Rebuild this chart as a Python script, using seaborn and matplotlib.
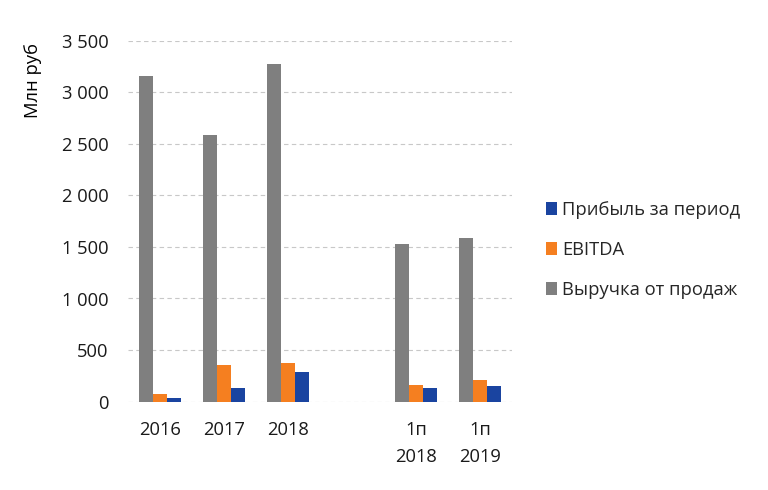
import matplotlib
matplotlib.use("Agg")
import matplotlib.pyplot as plt
import seaborn as sns
import pandas as pd
import numpy as np

categories = ["2016", "2017", "2018", "", "1п\n2018", "1п\n2019"]
revenue = [3160, 2590, 3280, np.nan, 1530, 1590]
ebitda = [75, 355, 375, np.nan, 160, 210]
profit = [35, 130, 290, np.nan, 130, 150]
series_names = ["Выручка от продаж", "EBITDA", "Прибыль за период"]
colors = ["#7F7F7F", "#F57F20", "#1A44A0"]
yticks = [0, 500, 1000, 1500, 2000, 2500, 3000, 3500]
ytick_labels = ["0", "500", "1 000", "1 500", "2 000", "2 500", "3 000", "3 500"]

rows = []
for name, vals in zip(series_names, [revenue, ebitda, profit]):
    for c, v in zip(categories, vals):
        rows.append({"cat": c, "series": name, "value": v})
df = pd.DataFrame(rows)

sns.set_theme(style="white")
plt.rcParams["font.family"] = ["Open Sans", "DejaVu Sans"]

fig = plt.figure(figsize=(7.68, 4.9), dpi=100)
ax = fig.add_axes([128/768, (490-401.5)/490, 384/768, 360.5/490])

sns.barplot(data=df, x="cat", y="value", hue="series", order=categories,
            hue_order=series_names, palette=colors, width=0.66,
            saturation=1, ax=ax, errorbar=None, legend=True, linewidth=0)

FS = 13.2
ax.set_xlim(-0.5, 5.5)
ax.set_ylim(0, 3500)
ax.set_yticks(yticks)
ax.set_yticklabels(ytick_labels, fontsize=FS, color="#1A1A1A")
ax.tick_params(axis="x", labelsize=FS, colors="#1A1A1A", length=0, pad=14)
for lab in ax.get_xticklabels():
    lab.set_linespacing(1.65)
ax.tick_params(axis="y", length=0, pad=14)
ax.set_xlabel("")
ax.set_ylabel("")
for s in ax.spines.values():
    s.set_visible(False)
ax.yaxis.grid(True, linestyle=(0, (4, 3)), color="#C8C8C8", linewidth=0.8)
ax.set_axisbelow(True)

fig.text(33/768, 1 - 80/490, "Млн руб", rotation=90, fontsize=FS,
         ha="center", va="center", color="#000000")

handles, labels = ax.get_legend_handles_labels()
ax.legend(handles[::-1], labels[::-1], loc="center left",
          bbox_to_anchor=(529/768, 1 - 250/490), bbox_transform=fig.transFigure,
          frameon=False, fontsize=FS, handlelength=0.65, handleheight=0.65,
          handletextpad=0.25, labelspacing=1.2)

fig.savefig("out.png", dpi=100)
